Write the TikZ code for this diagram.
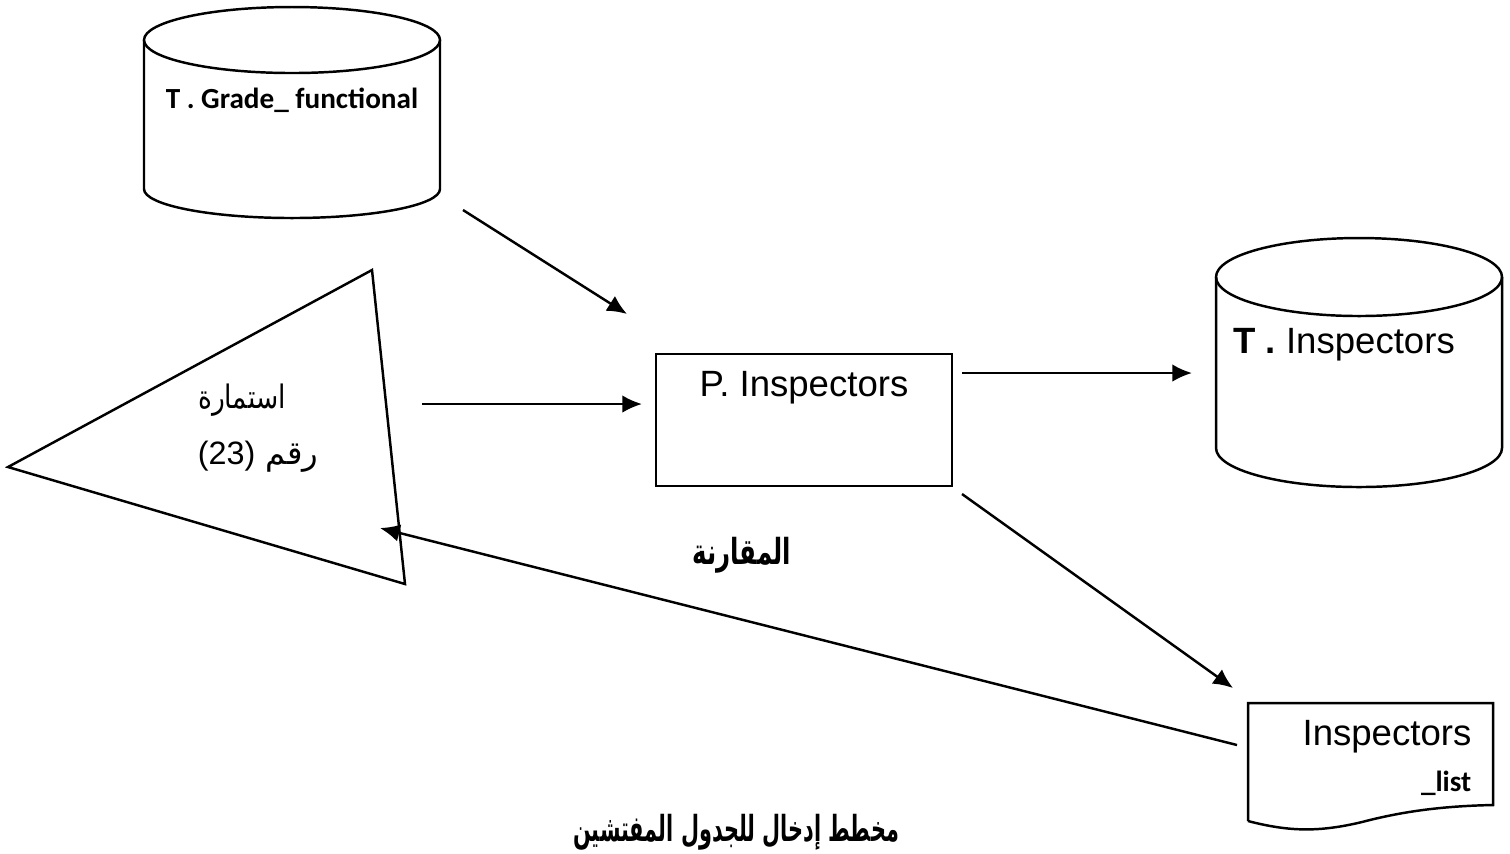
\documentclass[tikz,border=0pt]{standalone}
\usepackage{fontspec}
\setmainfont{Liberation Sans}
\newfontfamily\calibfont{Carlito}
\newfontfamily\arabicfont[Script=Arabic]{DejaVu Sans}
\TeXXeTstate=1
\usetikzlibrary{arrows.meta}
\tikzset{>={Latex[length=5.6pt,width=5pt]}}
\tikzset{flow/.style={->,line width=0.7pt}}
\tikzset{outline/.style={line width=0.7pt}}
\tikzset{lbl/.style={inner sep=0pt,font=\fontsize{10.4}{12}\selectfont}}
\tikzset{dblbl/.style={inner sep=0pt,font=\calibfont\bfseries\fontsize{8.3}{10}\selectfont}}
\tikzset{arlbl/.style={inner sep=0pt,font=\arabicfont\fontsize{9.2}{12}\selectfont}}
\tikzset{arbold/.style={inner sep=0pt,font=\arabicfont\bfseries\fontsize{10.2}{12}\selectfont}}

\begin{document}
\begin{tikzpicture}[x=0.01cm,y=0.01cm]
                \useasboundingbox (0,0) rectangle (1510,-853);

                \draw[outline] (292,-40) ellipse [x radius=148, y radius=33];
                \draw[outline] (144,-40) -- (144,-189) arc [start angle=180, end angle=360, x radius=148, y radius=29] -- (440,-40);
                \node[dblbl] (gradetxt) at (292,-100) {T . Grade\_ functional};

                \draw[outline] (1359,-277) ellipse [x radius=143, y radius=39];
                \draw[outline] (1216,-277) -- (1216,-448) arc [start angle=180, end angle=360, x radius=143, y radius=39] -- (1502,-277);
                \node[lbl] (tinsptxt) at (1344,-345) {\textbf{T .} Inspectors};

                \node[draw,outline,minimum width=2.96cm,minimum height=1.32cm] (pinsp) at (804,-420) {};
                \node[lbl] (pinsptxt) at (804,-388) {P. Inspectors};

                \coordinate (formA) at (372,-270);
                \coordinate (formB) at (8,-467);
                \coordinate (formC) at (405,-584);
                \draw[outline] (formA) -- (formB) -- (formC) -- cycle;
                \node[arlbl] (formtxt) at (242,-400) {\scalebox{0.82}[1]{\beginR استمارة\endR}};
                \node[arlbl] (formnum) at (258,-457) {\beginR رقم \beginL{\rmfamily(23)}\endL\endR};

                \draw[outline] (1248,-821) -- (1248,-703) -- (1493,-703) -- (1493,-805)
                    .. controls (1440,-806) and (1400,-812) .. (1362,-822)
                    .. controls (1320,-832) and (1290,-832) .. (1248,-821);
                \node[lbl,anchor=east] (listtxt) at (1472,-737) {Inspectors};
                \node[dblbl,anchor=east] (listsub) at (1472,-783) {\_list};

                \node[arbold] (cmptxt) at (742,-555) {\scalebox{0.68}[1]{\beginR المقارنة\endR}};
                \node[arbold] (caption) at (736,-832) {\scalebox{0.58}[1]{\beginR مخطط إدخال للجدول المفتشين\endR}};

                \coordinate (gradeout) at (463,-210);
                \coordinate (pinA) at (627,-314);
                \coordinate (formout) at (422,-404);
                \coordinate (pinB) at (642,-404);
                \coordinate (pout) at (962,-373);
                \coordinate (tinspin) at (1192,-373);
                \coordinate (poutB) at (962,-494);
                \coordinate (listin) at (1233,-688);
                \coordinate (listout) at (1237,-745);
                \coordinate (formin) at (380,-528);

                \draw[flow] (gradeout) -- (pinA);
                \draw[flow] (formout) -- (pinB);
                \draw[flow] (pout) -- (tinspin);
                \draw[flow] (poutB) -- (listin);
                \draw[flow] (listout) -- (formin);
            \end{tikzpicture}
\end{document}
